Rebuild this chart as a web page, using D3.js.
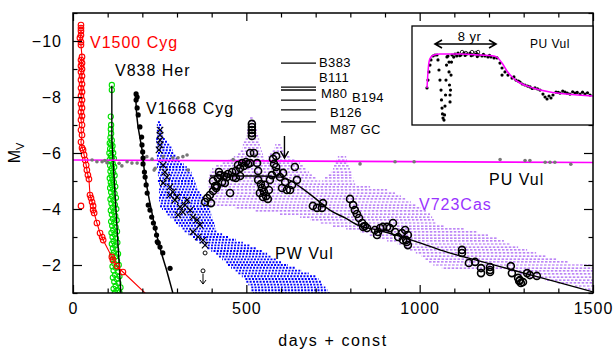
<!DOCTYPE html>
<html><head><meta charset="utf-8">
<script src="https://cdn.jsdelivr.net/npm/d3@7"></script>
<style>
body{margin:0;background:#fff}
svg{display:block}
text{font-family:"Liberation Sans",Arial,Helvetica,sans-serif}
</style>
</head><body>
<svg id="c" width="615" height="352"></svg>
<script>
// ---------------- DATA ----------------
const xTicksMajor = [0, 500, 1000, 1500];
const xTicksMinor = [100,200,300,400,600,700,800,900,1100,1200,1300,1400];
const yTicksMajor = [-10, -8, -6, -4, -2];
const yTicksMinor = [-11, -9, -7, -5, -3, -1];

// V1500 Cyg (day, M_V)
const v1500 = [[23,-10.57],[23,-10.46],[23,-10.36],[23,-10.21],[20,-10.11],[23,-9.96],[23,-9.86],[26,-9.43],[23,-9.32],[26,-9.21],[23,-9.11],[26,-9.0],[23,-8.89],[26,-8.75],[23,-8.61],[26,-8.46],[23,-8.32],[26,-8.18],[23,-8.04],[26,-7.89],[23,-7.75],[26,-7.61],[23,-7.46],[26,-7.32],[23,-7.18],[26,-7.0],[23,-6.82],[26,-6.64],[23,-6.39],[26,-6.18],[29,-6.11],[32,-5.93],[35,-5.75],[38,-5.57],[40,-5.39],[43,-5.21],[46,-5.07],[49,-4.5],[52,-4.39],[55,-4.25],[58,-4.11],[58,-3.96],[61,-3.86],[69,-3.5],[78,-3.14],[84,-3.0],[87,-2.89],[112,-2.29],[115,-2.18],[127,-1.96],[144,-1.75],[225,-0.8]];
const v1500Extra = [[23,-4.11]];

// V838 Her
const v838 = [[112,-8.43],[112,-8.25],[109,-7.3],[110,-7.0],[109,-6.85],[110,-6.7],[108,-6.55],[112,-6.45],[106,-6.35],[110,-6.3],[114,-6.25],[107,-6.15],[112,-6.1],[105,-6.0],[116,-6.0],[109,-5.9],[113,-5.85],[106,-5.75],[118,-5.8],[111,-5.7],[115,-5.6],[107,-5.55],[119,-5.5],[112,-5.45],[108,-5.35],[116,-5.3],[111,-5.2],[120,-5.2],[106,-5.1],[114,-5.05],[109,-4.95],[118,-4.95],[112,-4.85],[122,-4.8],[107,-4.75],[116,-4.7],[110,-4.6],[120,-4.55],[113,-4.45],[108,-4.35],[124,-4.4],[117,-4.3],[111,-4.2],[121,-4.15],[114,-4.05],[109,-3.95],[125,-4.0],[118,-3.9],[112,-3.8],[122,-3.75],[115,-3.65],[110,-3.55],[126,-3.6],[119,-3.5],[113,-3.4],[123,-3.35],[116,-3.25],[111,-3.15],[127,-3.2],[120,-3.1],[114,-3.0],[124,-2.95],[117,-2.85],[112,-2.75],[128,-2.8],[121,-2.7],[115,-2.6],[125,-2.55],[118,-2.45],[113,-2.35],[130,-2.4],[122,-2.3],[116,-2.2],[127,-2.15],[119,-2.05],[114,-1.95],[132,-2.0],[124,-1.9],[117,-1.8],[129,-1.75],[121,-1.65],[115,-1.55],[134,-1.6],[126,-1.5],[119,-1.4],[131,-1.35],[123,-1.25],[117,-1.15],[137,-1.2],[128,-1.1],[121,-1.02],[134,-1.02]];
const v838Fit = [[112,-8.4],[112,-6.5],[138,-1.0]];

// V1668 Cyg
const v1668 = [[182,-8.11],[185,-8.0],[182,-7.89],[185,-7.61],[188,-7.36],[193,-6.93],[198,-6.57],[199,-6.29],[201,-6.04],[202,-5.82],[202,-5.61],[206,-5.32],[208,-5.14],[211,-4.86],[214,-4.57],[217,-4.14],[222,-3.96],[227,-3.71],[232,-3.5],[237,-3.32],[241,-3.07],[243,-2.83],[246,-2.79],[251,-2.64],[259,-2.43],[280,-1.88]];
const v1668Fit = [[181,-8.1],[183,-7.5],[187,-7.0],[193,-6.55],[200,-6.05],[205,-5.45],[211,-4.95],[219,-4.4],[228,-3.85],[237,-3.3],[246,-2.85],[257,-2.35],[268,-1.9],[277,-1.5],[288,-1.0]];

// PW Vul: observation rows [M_V, dayFrom, dayTo]
const pwVulRows = [[-7.1,245,254],[-7.0,242,257],[-6.9,242,257],[-6.8,242,260],[-6.7,242,260],[-6.6,240,262],[-6.5,240,268],[-6.4,240,274],[-6.3,240,280],[-6.2,240,285],[-6.1,242,288],[-6.0,242,290],[-5.9,242,298],[-5.8,242,304],[-5.7,242,309],[-5.6,242,320],[-5.5,242,328],[-5.4,245,337],[-5.3,245,342],[-5.2,245,345],[-5.1,245,348],[-5.0,245,351],[-4.9,248,354],[-4.8,248,357],[-4.7,248,361],[-4.6,248,365],[-4.5,248,370],[-4.4,248,376],[-4.3,248,381],[-4.2,250,386],[-4.1,251,390],[-4.0,257,393],[-3.9,265,396],[-3.8,273,399],[-3.7,281,402],[-3.6,289,404],[-3.5,297,407],[-3.4,305,409],[-3.3,313,412],[-3.2,322,415],[-3.1,333,430],[-3.0,343,450],[-2.9,354,470],[-2.8,365,490],[-2.7,376,510],[-2.6,388,530],[-2.5,399,545],[-2.4,410,560],[-2.3,421,570],[-2.2,430,585],[-2.1,439,600],[-2.0,447,620],[-1.9,456,640],[-1.8,466,660],[-1.7,477,680],[-1.6,487,700],[-1.5,494,708],[-1.4,500,715],[-1.3,506,722],[-1.2,511,728],[-1.1,515,735],[-1.0,519,741]];
const pwVulCross = [[251,-6.82],[251,-6.64],[251,-6.46],[251,-6.29],[248,-6.11],[260,-5.57],[265,-5.32],[271,-5.14],[260,-4.93],[280,-4.79],[288,-4.61],[300,-4.43],[280,-4.5],[294,-4.32],[309,-4.07],[317,-3.89],[329,-4.32],[323,-4.14],[338,-3.96],[346,-3.71],[303,-3.79],[358,-3.61],[366,-3.43],[346,-3.18],[361,-3.0],[375,-2.89],[381,-2.71]];
const pwVulOpen = [[381,-2.43]];
const pwVulLimit = [[375,-1.79,-1.32]];

// PU Vul
const puVulDots = [[55,-5.75],[69,-5.69],[84,-5.69],[92,-5.73],[98,-5.65],[133,-5.63],[141,-5.54],[156,-5.69],[170,-5.64],[185,-5.64],[213,-5.87],[228,-5.78],[234,-5.39],[237,-5.45],[260,-5.87],[288,-5.83],[303,-5.83],[317,-5.87],[329,-5.93],[332,-5.39],[462,-5.77],[525,-5.89],[828,-5.61],[929,-5.69],[984,-5.69],[1232,-5.77],[1304,-5.73],[1318,-5.73],[1362,-5.67],[1376,-5.67],[1390,-5.67],[1436,-5.6]];
const puVulLine = [[0,-5.75],[1500,-5.66]];

// V723 Cas: observation rows [M_V, from, to, (from, to)...]
const v723Rows = [[-7.25,511,522],[-7.14,508,525],[-7.04,505,528],[-6.93,505,528],[-6.82,502,531],[-6.71,502,531],[-6.61,499,534],[-6.50,496,537],[-6.39,493,539],[-6.29,490,539,583,600],[-6.18,488,542,580,603],[-6.07,482,545,574,609],[-5.96,476,548,568,617],[-5.86,464,551,563,628,764,788],[-5.75,447,554,557,640,759,790],[-5.64,430,655,756,793],[-5.54,413,664,753,796],[-5.43,401,672,750,799],[-5.32,395,681,744,805],[-5.21,392,689,736,805],[-5.11,392,701,727,808],[-5.00,389,713,718,811],[-4.89,389,814],[-4.79,389,857],[-4.68,392,906],[-4.57,395,929],[-4.46,395,946],[-4.36,395,961],[-4.25,395,975],[-4.14,395,989],[-4.04,467,1004],[-3.93,525,1018],[-3.82,597,1030],[-3.71,655,1036],[-3.61,684,1041],[-3.50,713,1047],[-3.39,750,1073],[-3.29,788,1131],[-3.18,828,1168],[-3.07,854,1197],[-2.96,880,1223],[-2.86,906,1243],[-2.75,935,1261],[-2.64,955,1284],[-2.54,972,1310],[-2.43,989,1336],[-2.32,1004,1367],[-2.21,1015,1396],[-2.11,1027,1428],[-2.00,1039,1500],[-1.89,1064,1500],[-1.79,1261,1500],[-1.68,1289,1500],[-1.57,1318,1500],[-1.46,1362,1500],[-1.36,1396,1500],[-1.25,1448,1500],[-1.14,1477,1500]];
const v723Circles = [[381,-4.25],[387,-4.39],[395,-4.5],[398,-4.21],[404,-4.64],[410,-4.82],[404,-5.0],[415,-4.82],[430,-4.96],[444,-5.14],[462,-5.14],[453,-4.57],[418,-5.11],[424,-5.21],[436,-5.18],[447,-5.25],[459,-5.32],[470,-5.36],[482,-5.46],[493,-5.54],[505,-5.61],[488,-5.64],[499,-5.68],[511,-5.64],[470,-5.11],[482,-5.18],[438,-4.93],[413,-4.75],[421,-5.32],[476,-5.57],[516,-7.04],[516,-6.93],[516,-6.82],[516,-6.71],[516,-6.61],[511,-6.0],[522,-6.0],[531,-5.64],[534,-5.36],[534,-5.04],[542,-4.89],[545,-4.75],[551,-4.61],[557,-4.46],[562,-4.36],[554,-4.86],[565,-4.68],[539,-4.57],[548,-4.43],[568,-5.04],[574,-5.21],[577,-5.79],[580,-5.61],[586,-5.5],[588,-5.32],[597,-5.14],[606,-5.29],[612,-4.96],[603,-4.75],[617,-4.68],[626,-4.68],[632,-4.86],[646,-5.04],[640,-5.5],[586,-5.89],[692,-4.11],[704,-4.04],[718,-4.04],[721,-4.21],[799,-4.36],[808,-4.14],[813,-3.96],[819,-3.82],[825,-3.68],[834,-3.5],[837,-3.36],[842,-3.39],[848,-3.32],[871,-3.25],[880,-3.18],[877,-3.07],[894,-3.36],[906,-3.36],[914,-3.32],[923,-3.5],[929,-3.18],[938,-3.0],[949,-3.14],[958,-3.25],[952,-2.89],[966,-3.07],[966,-2.71],[961,-2.89],[963,-2.82],[886,-3.32],[1122,-2.54],[1122,-2.43],[1142,-2.07],[1160,-2.11],[1177,-1.89],[1177,-1.71],[1203,-1.93],[1203,-1.82],[1203,-1.75],[1263,-1.96],[1266,-1.71],[1284,-1.54],[1289,-1.46],[1298,-1.39],[1310,-1.71],[1318,-1.64],[1338,-1.61],[1287,-1.43],[1292,-1.36]];
const v723Fit = [[395,-5.18],[539,-5.18],[600,-5.14],[630,-5.0],[655,-4.79],[698,-4.39],[741,-3.96],[785,-3.68],[828,-3.39],[870,-3.27],[906,-3.16],[1001,-2.79],[1079,-2.46],[1174,-2.14],[1289,-1.75],[1405,-1.36],[1500,-1.04]];

// Comparison objects (label, M_V), drawn between days 600 and 701
const refNames = ["B383","B111","M80","B194","B126","M87 GC"];
const refMags = [-9.21,-8.35,-8.25,-7.89,-7.54,-7.11];
const refSpan = [600, 701];
const arrowMark = [610, -6.61, -5.82];

// Inset: PU Vul (year, V)
const insetObs = [[1979.0,10.88],[1979.13,10.32],[1979.26,9.75],[1979.39,9.26],[1979.52,8.9],[1979.79,8.62],[1980.05,8.55],[1980.31,8.55],[1980.44,8.9],[1980.57,9.61],[1980.7,10.32],[1980.84,11.03],[1980.9,11.73],[1980.97,12.3],[1981.03,12.72],[1981.1,13.01],[1981.23,13.15],[1981.3,12.79],[1981.36,12.16],[1981.43,11.38],[1981.49,10.32],[1981.56,9.26],[1981.62,8.69],[1981.75,8.62],[1981.89,9.05],[1981.89,9.75],[1981.95,10.67],[1982.02,11.38],[1982.02,11.87],[1982.08,11.03],[1982.15,9.97],[1982.21,9.05],[1982.28,8.55],[1982.5,8.7],[1982.67,8.48],[1982.9,8.62],[1983.07,8.41],[1983.3,8.6],[1983.46,8.55],[1983.85,8.41],[1984.0,8.58],[1984.25,8.48],[1984.64,8.41],[1984.8,8.6],[1985.03,8.55],[1985.43,8.48],[1985.6,8.66],[1985.82,8.55],[1986.21,8.62],[1986.4,8.5],[1986.61,8.62],[1987.0,8.69],[1987.2,8.58],[1987.39,8.69],[1987.79,8.76],[1988.18,8.76],[1988.57,9.12],[1988.84,9.47],[1988.84,9.97],[1989.23,9.75],[1989.62,9.97],[1990.15,10.18],[1990.4,10.1],[1990.67,10.32],[1991.0,10.4],[1991.2,10.46],[1991.5,10.6],[1991.85,10.67],[1992.2,10.75],[1992.51,10.81],[1992.8,10.92],[1993.16,10.88],[1993.5,10.95],[1993.82,11.03],[1994.21,11.31],[1994.48,11.52],[1994.74,11.66],[1995.0,11.45],[1995.26,11.59],[1995.52,11.38],[1995.92,11.17],[1996.2,11.2],[1996.44,11.24],[1996.8,11.1],[1997.1,11.17],[1997.4,11.25],[1997.75,11.31],[1998.1,11.15],[1998.41,11.24],[1998.7,11.2],[1999.07,11.31],[1999.4,11.18],[1999.72,11.31],[2000.05,11.22],[2000.38,11.38]];
const insetOpen = [[1983.6,8.34],[1984.1,8.41],[1984.9,8.34],[1985.4,8.41],[1985.7,8.34]];
const insetModel = [[1979.0,10.88],[1979.13,9.75],[1979.26,9.05],[1979.52,8.69],[1979.92,8.55],[1980.7,8.48],[1983.33,8.48],[1985.95,8.55],[1987.79,8.62],[1988.31,8.76],[1988.84,9.12],[1989.49,9.68],[1990.28,10.18],[1991.2,10.53],[1992.9,10.88],[1995.13,11.17],[1997.36,11.31],[2000.77,11.45]];
const insetSpan = [1980.05, 1988.05, 7.77];

// ---------------- DRAW ----------------
const svg = d3.select("#c");
const x = d3.scaleLinear().domain([0,1500]).range([73,593]);
const y = d3.scaleLinear().domain([-1,-11]).range([293,13]);
const FONT = '"Liberation Sans",Arial,Helvetica,sans-serif';
const minus = d => d < 0 ? "\u2212" + Math.abs(d) : String(d);

svg.append("defs").append("clipPath").attr("id","pc")
  .append("rect").attr("x",73).attr("y",13).attr("width",520).attr("height",280);
const g = svg.append("g").attr("clip-path","url(#pc)");

function rowsToSegs(rows){
  const s=[]; rows.forEach((r,k)=>{for(let i=1;i+1<r.length;i+=2) s.push({m:r[0],a:r[i],b:r[i+1],k:k});}); return s;
}
// V723 Cas rows
g.selectAll(".v723r").data(rowsToSegs(v723Rows)).join("line")
  .attr("x1",d=>x(d.a)).attr("x2",d=>x(d.b)).attr("y1",d=>y(d.m)).attr("y2",d=>y(d.m))
  .attr("stroke","#8c2cf0").attr("stroke-width",1.2).attr("stroke-dasharray","2.5,1.5")
  .attr("stroke-dashoffset",d=>(d.k%4)*1.1).attr("opacity",0.75);
// PW Vul rows
g.selectAll(".pwr").data(rowsToSegs(pwVulRows)).join("line")
  .attr("x1",d=>x(d.a)).attr("x2",d=>x(d.b)).attr("y1",d=>y(d.m)).attr("y2",d=>y(d.m))
  .attr("stroke","#0000ff").attr("stroke-width",1.9).attr("stroke-dasharray","2,1.3")
  .attr("stroke-dashoffset",d=>(d.k%3)*1.1);

// V838 Her
g.selectAll(".v838").data(v838).join("circle")
  .attr("cx",d=>x(d[0])).attr("cy",d=>y(d[1])).attr("r",2.6)
  .attr("fill","none").attr("stroke","#00e000").attr("stroke-width",1.1);
const line = d3.line().x(d=>x(d[0])).y(d=>y(d[1]));
g.append("path").attr("d",line(v838Fit)).attr("fill","none").attr("stroke","#000").attr("stroke-width",1.4);

// V1500 Cyg
g.append("path").attr("d",line(v1500)).attr("fill","none").attr("stroke","#ff0000").attr("stroke-width",1.1);
g.selectAll(".v1500").data(v1500.concat(v1500Extra)).join("circle")
  .attr("cx",d=>x(d[0])).attr("cy",d=>y(d[1])).attr("r",2.8)
  .attr("fill","none").attr("stroke","#ff0000").attr("stroke-width",1.1);

// PU Vul line and dots
g.append("path").attr("d",line(puVulLine)).attr("stroke","#ff00ff").attr("stroke-width",1.6).attr("fill","none");
g.selectAll(".pu").data(puVulDots).join("circle")
  .attr("cx",d=>x(d[0])).attr("cy",d=>y(d[1])).attr("r",1.8).attr("fill","#777");

// V1668 Cyg
g.append("path").attr("d",d3.line().x(d=>x(d[0])).y(d=>y(d[1])).curve(d3.curveCatmullRom)(v1668Fit))
  .attr("fill","none").attr("stroke","#000").attr("stroke-width",1.5);
g.selectAll(".v1668").data(v1668).join("circle")
  .attr("cx",d=>x(d[0])).attr("cy",d=>y(d[1])).attr("r",2.6).attr("fill","#000");

// PW Vul crosses
g.selectAll(".pwx").data(pwVulCross).join("path")
  .attr("d",d=>{const cx=x(d[0]),cy=y(d[1]),s=3.2;return `M${cx-s},${cy-s}L${cx+s},${cy+s}M${cx-s},${cy+s}L${cx+s},${cy-s}`;})
  .attr("stroke","#000").attr("stroke-width",1.1);
g.selectAll(".pwo").data(pwVulOpen).join("circle")
  .attr("cx",d=>x(d[0])).attr("cy",d=>y(d[1])).attr("r",2).attr("fill","none").attr("stroke","#000");
pwVulLimit.forEach(d=>{
  const cx=x(d[0]);
  g.append("circle").attr("cx",cx).attr("cy",y(d[1])).attr("r",2).attr("fill","none").attr("stroke","#000");
  g.append("path").attr("d",`M${cx},${y(d[1])+3}L${cx},${y(d[2])}M${cx-3},${y(d[2])-4}L${cx},${y(d[2])}L${cx+3},${y(d[2])-4}`)
    .attr("stroke","#000").attr("fill","none").attr("stroke-width",1);
});

// V723 Cas fit and circles
g.append("path").attr("d",d3.line().x(d=>x(d[0])).y(d=>y(d[1])).curve(d3.curveMonotoneX)(v723Fit))
  .attr("fill","none").attr("stroke","#000").attr("stroke-width",1.4);
g.selectAll(".v723c").data(v723Circles).join("circle")
  .attr("cx",d=>x(d[0])).attr("cy",d=>y(d[1])).attr("r",3.5)
  .attr("fill","none").attr("stroke","#000").attr("stroke-width",1.6);

// Reference lines
g.selectAll(".ref").data(refMags).join("line")
  .attr("x1",x(refSpan[0])).attr("x2",x(refSpan[1])).attr("y1",d=>y(d)).attr("y2",d=>y(d))
  .attr("stroke","#000").attr("stroke-width",1.3);
{
  const ax=x(arrowMark[0]), y0=y(arrowMark[1]), y1=y(arrowMark[2]);
  g.append("path").attr("d",`M${ax},${y0}L${ax},${y1}M${ax-4},${y1-7}L${ax},${y1}L${ax+4},${y1-7}`)
    .attr("stroke","#000").attr("fill","none").attr("stroke-width",1.4);
}

// ---------- Axes ----------
function styleAxis(sel){ sel.select(".domain").remove(); sel.selectAll("line").attr("stroke","#000").attr("stroke-width",1.2);
  sel.selectAll("text").attr("font-family",FONT).attr("font-size",16).attr("fill","#000").attr("letter-spacing","1px"); }
svg.append("g").attr("transform","translate(0,293)")
  .call(d3.axisBottom(x).tickValues(xTicksMajor).tickSize(-8).tickPadding(10).tickFormat(d3.format("d"))).call(styleAxis);
svg.append("g").attr("transform","translate(0,293)")
  .call(d3.axisBottom(x).tickValues(xTicksMinor).tickSize(-4.5).tickFormat("")).call(styleAxis);
svg.append("g").attr("transform","translate(0,13)")
  .call(d3.axisTop(x).tickValues(xTicksMajor).tickSize(-8).tickFormat("")).call(styleAxis);
svg.append("g").attr("transform","translate(0,13)")
  .call(d3.axisTop(x).tickValues(xTicksMinor).tickSize(-4.5).tickFormat("")).call(styleAxis);
svg.append("g").attr("transform","translate(73,0)")
  .call(d3.axisLeft(y).tickValues(yTicksMajor).tickSize(-9).tickPadding(11).tickFormat(minus)).call(styleAxis);
svg.append("g").attr("transform","translate(73,0)")
  .call(d3.axisLeft(y).tickValues(yTicksMinor).tickSize(-4.5).tickFormat("")).call(styleAxis);
svg.append("g").attr("transform","translate(593,0)")
  .call(d3.axisRight(y).tickValues(yTicksMajor).tickSize(-9).tickFormat("")).call(styleAxis);
svg.append("g").attr("transform","translate(593,0)")
  .call(d3.axisRight(y).tickValues(yTicksMinor).tickSize(-4.5).tickFormat("")).call(styleAxis);
svg.append("rect").attr("x",73).attr("y",13).attr("width",520).attr("height",280)
  .attr("fill","none").attr("stroke","#000").attr("stroke-width",1.5);

// axis titles
svg.append("text").attr("x",333).attr("y",346).attr("text-anchor","middle")
  .attr("font-size",16).attr("letter-spacing","1.6px").text("days + const");
const yl = svg.append("text").attr("transform","translate(20,153) rotate(-90)").attr("text-anchor","middle").attr("font-size",16);
yl.append("tspan").text("M");
yl.append("tspan").attr("font-size",11).attr("dy",4).text("V");

// ---------- Labels ----------
const labels = [
  {t:"V1500 Cyg",x:90,y:48,c:"#ff0000"},
  {t:"V838 Her",x:115,y:76,c:"#000"},
  {t:"V1668 Cyg",x:146,y:114,c:"#000"},
  {t:"PW Vul",x:275,y:259,c:"#000"},
  {t:"PU Vul",x:489,y:185,c:"#000"},
  {t:"V723Cas",x:419,y:210,c:"#9933ff"}
];
svg.selectAll(".lab").data(labels).join("text").attr("x",d=>d.x).attr("y",d=>d.y)
  .attr("fill",d=>d.c).attr("font-size",16).attr("letter-spacing","1px").text(d=>d.t);
const refLabelPos = [[319,67],[319,82],[321,97.5],[352,102],[330,117],[330,134]];
svg.selectAll(".rl").data(refNames).join("text")
  .attr("x",(d,i)=>refLabelPos[i][0]).attr("y",(d,i)=>refLabelPos[i][1])
  .attr("font-size",13).attr("letter-spacing","0.4px").text(d=>d);

// ---------- Inset ----------
const ix = d3.scaleLinear().domain([1977,2001]).range([411.75,594.75]);
const iy = d3.scaleLinear().domain([6.5,13.5]).range([26,125]);
svg.append("rect").attr("x",412).attr("y",26).attr("width",181).attr("height",99)
  .attr("fill","#fff").attr("stroke","none");
svg.append("defs").append("clipPath").attr("id","ic")
  .append("rect").attr("x",412).attr("y",26).attr("width",181).attr("height",99);
const ig = svg.append("g").attr("clip-path","url(#ic)");
ig.selectAll(".io").data(insetObs).join("circle")
  .attr("cx",d=>ix(d[0])).attr("cy",d=>iy(d[1])).attr("r",1.6).attr("fill","#000");
ig.selectAll(".ioo").data(insetOpen).join("circle")
  .attr("cx",d=>ix(d[0])).attr("cy",d=>iy(d[1])).attr("r",1.7).attr("fill","none").attr("stroke","#000").attr("stroke-width",0.8);
ig.append("path").attr("d",d3.line().x(d=>ix(d[0])).y(d=>iy(d[1])).curve(d3.curveMonotoneX)(insetModel))
  .attr("fill","none").attr("stroke","#ff00ff").attr("stroke-width",1.5);
svg.append("rect").attr("x",412).attr("y",26).attr("width",181).attr("height",99)
  .attr("fill","none").attr("stroke","#000").attr("stroke-width",1.3);
{
  const a=ix(insetSpan[0]), b=ix(insetSpan[1]), yy=iy(insetSpan[2]);
  svg.append("path").attr("d",`M${a},${yy}L${b},${yy}M${a+7},${yy-4}L${a},${yy}L${a+7},${yy+4}M${b-7},${yy-4}L${b},${yy}L${b-7},${yy+4}`)
    .attr("stroke","#000").attr("fill","none").attr("stroke-width",1.6);
  svg.append("text").attr("x",(a+b)/2+4).attr("y",41).attr("text-anchor","middle").attr("font-size",13).attr("letter-spacing","0.5px").text("8  yr");
  svg.append("text").attr("x",530).attr("y",48).attr("font-size",12).attr("letter-spacing","0.5px").text("PU Vul");
}
</script>
</body></html>
